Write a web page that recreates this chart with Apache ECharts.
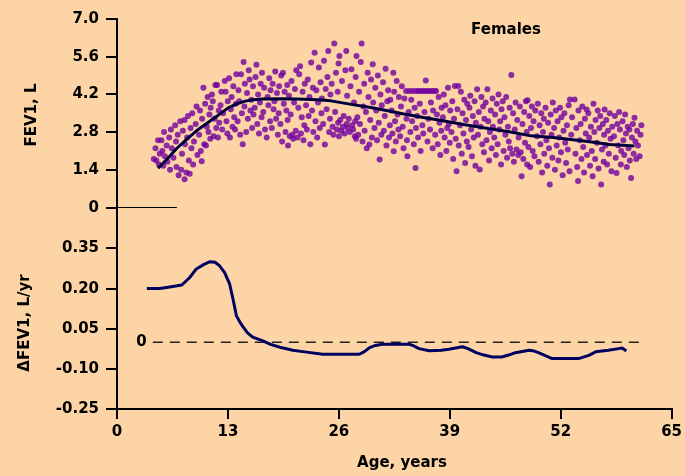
<!DOCTYPE html>
<html>
<head>
<meta charset="utf-8">
<script src="https://cdn.jsdelivr.net/npm/echarts@6/dist/echarts.min.js"></script>
<style>
html,body{margin:0;padding:0;background:#FDD4A6;}
#chart{width:685px;height:476px;}
</style>
</head>
<body>
<div id="chart"></div>
<script>
// ---------- DATA ----------
const xTicks = [0, 13, 26, 39, 52, 65];
const fevTicks = [0, 1.4, 2.8, 4.2, 5.6, 7.0];
const fevTickLabels = ['0', '1.4', '2.8', '4.2', '5.6', '7.0'];
const deltaTicks = [-0.25, -0.10, 0.05, 0.20, 0.35];
const deltaTickLabels = ['-0.25', '-0.10', '0.05', '0.20', '0.35'];

// Individual FEV1 observations [age, FEV1 (L)]
const fevPoints = [
[4.3,1.8],[4.5,2.2],[4.6,1.75],[4.8,2.5],[4.9,1.6],[5.0,2.0],
[5.2,2.5],[5.3,2.1],[5.4,1.55],[5.5,2.8],[5.6,1.9],[5.8,2.3],[5.9,1.7],
[6.1,2.6],[6.2,1.4],[6.3,2.9],[6.4,2.2],[6.6,1.85],[6.8,3.05],[6.9,2.45],[6.95,1.5],
[7.1,2.7],[7.2,1.2],[7.4,3.2],[7.5,1.4],[7.6,2.0],[7.7,2.85],[7.9,1.05],[7.9,3.25],[7.95,2.35],
[8.1,1.3],[8.2,2.6],[8.3,3.4],[8.4,1.75],[8.5,1.25],[8.6,2.95],[8.7,2.2],[8.8,3.5],[8.9,1.6],
[9.0,2.45],[9.2,3.1],[9.3,3.75],[9.4,1.95],[9.6,2.7],[9.7,3.6],[9.8,2.1],[9.9,1.72],[9.95,3.3],
[10.1,4.45],[10.2,2.35],[10.3,3.85],[10.4,2.3],[10.5,3.0],[10.6,4.1],[10.7,2.8],[10.8,3.45],[10.9,2.55],[10.95,3.7],
[11.1,4.2],[11.2,3.95],[11.3,2.65],[11.4,3.3],[11.5,4.55],[11.6,2.95],[11.7,4.55],[11.8,2.6],[11.9,3.6],[11.95,3.15],
[12.1,3.8],[12.2,4.3],[12.3,2.9],[12.4,3.5],[12.6,4.7],[12.7,4.3],[12.8,3.2],[12.9,2.75],[12.95,3.95],
[13.1,4.8],[13.2,2.6],[13.3,3.65],[13.4,4.1],[13.5,3.0],[13.6,4.5],[13.7,3.35],[13.8,2.9],[13.9,3.85],[13.95,4.95],
[14.1,3.2],[14.2,4.35],[14.3,3.95],[14.4,2.7],[14.5,4.95],[14.6,3.5],[14.7,2.35],[14.8,5.4],[14.9,3.75],[14.95,4.6],
[15.1,2.8],[15.2,4.25],[15.3,3.3],[15.4,5.1],[15.5,4.75],[15.6,3.6],[15.7,4.0],[15.8,2.95],[15.9,4.5],[15.95,3.45],
[16.1,3.7],[16.2,4.85],[16.3,5.3],[16.4,3.1],[16.5,4.2],[16.6,2.75],[16.7,3.9],[16.8,4.6],[16.9,3.35],[16.95,5.0],
[17.1,3.55],[17.2,4.45],[17.3,2.9],[17.5,2.6],[17.6,4.1],[17.7,3.8],[17.8,4.8],[17.9,3.2],[17.95,4.35],
[18.1,2.95],[18.2,4.6],[18.3,3.65],[18.4,3.95],[18.5,5.05],[18.6,3.3],[18.7,4.25],[18.8,2.7],[18.9,3.5],[18.95,4.5],
[19.1,3.1],[19.2,4.9],[19.3,2.45],[19.4,5.0],[19.5,3.85],[19.6,4.3],[19.7,2.8],[19.8,3.6],[19.9,4.55],[19.95,3.25],
[20.0,2.3],[20.1,4.15],[20.2,2.65],[20.3,3.45],[20.4,4.7],[20.5,2.7],[20.6,2.55],[20.7,3.9],[20.8,4.4],[20.9,2.85],[20.95,5.1],
[21.1,2.6],[21.2,3.7],[21.3,4.95],[21.4,5.25],[21.5,2.75],[21.6,3.35],[21.7,4.3],[21.8,2.5],[21.9,3.05],[21.95,4.6],
[22.1,3.8],[22.2,2.9],[22.3,4.75],[22.4,3.4],[22.5,4.1],[22.6,2.35],[22.7,5.38],[22.8,3.6],[22.9,4.45],[22.95,2.8],
[23.1,5.75],[23.2,3.2],[23.3,4.35],[23.4,2.6],[23.5,3.9],[23.6,5.2],[23.7,2.95],[23.8,4.65],[23.9,3.5],[23.95,4.05],
[24.1,3.1],[24.2,5.45],[24.3,2.34],[24.4,4.4],[24.5,3.65],[24.6,4.85],[24.7,5.81],[24.8,2.8],[24.9,3.3],[24.95,4.2],
[25.1,4.6],[25.2,3.0],[25.3,2.7],[25.4,6.09],[25.5,3.55],[25.6,5.0],[25.7,2.9],[25.8,4.3],[25.85,3.15],[25.9,5.35],[25.95,2.65],
[26.0,5.63],[26.1,3.25],[26.2,2.85],[26.3,4.7],[26.4,3.0],[26.5,3.4],[26.6,2.75],[26.7,5.1],[26.8,5.81],[26.85,3.1],[26.9,4.15],[26.95,2.95],
[27.1,3.3],[27.2,2.8],[27.3,4.5],[27.4,5.13],[27.5,3.05],[27.6,2.9],[27.7,3.9],[27.8,2.65],[27.85,3.2],[27.9,4.85],[27.95,2.55],
[28.0,5.63],[28.1,3.35],[28.2,2.7],[28.3,4.3],[28.4,3.1],[28.5,5.4],[28.6,6.09],[28.7,2.45],[28.8,3.75],[28.9,4.6],[28.95,2.85],
[29.1,3.55],[29.2,2.2],[29.3,5.0],[29.4,4.1],[29.5,2.34],[29.6,3.25],[29.7,4.75],[29.8,2.6],[29.9,5.32],[29.95,3.9],
[30.1,2.95],[30.2,4.45],[30.3,3.6],[30.4,2.5],[30.5,4.9],[30.6,3.15],[30.7,1.78],[30.8,4.2],[30.9,2.7],[30.95,3.8],
[31.1,4.65],[31.2,2.85],[31.3,3.4],[31.4,5.15],[31.5,2.3],[31.6,3.95],[31.7,4.35],[31.8,2.6],[31.9,3.05],[31.95,4.0],
[32.1,3.6],[32.2,2.75],[32.3,5.0],[32.35,2.09],[32.4,4.3],[32.5,3.2],[32.6,2.45],[32.7,4.7],[32.8,3.45],[32.9,2.9],[32.95,4.1],
[33.1,2.65],[33.2,3.75],[33.3,4.5],[33.4,3.0],[33.5,2.2],[33.6,4.05],[33.8,4.33],[33.85,3.3],[33.9,2.5],[33.95,1.9],
[34.1,3.55],[34.2,4.33],[34.3,2.8],[34.4,4.0],[34.5,3.2],[34.6,4.33],[34.7,2.35],[34.8,3.7],[34.9,1.47],[34.95,2.95],
[35.0,4.33],[35.1,3.4],[35.2,2.6],[35.3,4.33],[35.4,3.85],[35.5,2.1],[35.6,4.33],[35.7,3.05],[35.8,2.75],[35.9,4.33],[35.95,3.55],
[36.1,4.72],[36.2,4.33],[36.3,2.45],[36.4,3.3],[36.5,4.33],[36.6,2.9],[36.7,3.9],[36.8,4.33],[36.9,2.2],[36.95,3.6],
[37.1,4.33],[37.2,2.7],[37.3,4.33],[37.4,3.45],[37.5,2.35],[37.6,4.1],[37.7,3.15],[37.8,1.95],[37.9,2.85],[37.95,3.7],
[38.1,3.35],[38.2,4.2],[38.3,2.6],[38.4,3.8],[38.5,2.1],[38.6,2.95],[38.7,4.45],[38.8,3.1],[38.9,2.4],[38.95,3.6],
[39.1,2.8],[39.2,3.95],[39.3,1.8],[39.4,3.3],[39.5,4.51],[39.6,2.55],[39.7,1.35],[39.8,3.65],[39.9,4.51],[39.95,2.3],
[40.1,3.05],[40.2,4.3],[40.3,2.0],[40.4,3.5],[40.5,2.75],[40.6,4.0],[40.7,1.65],[40.8,3.25],[40.9,2.45],[40.95,3.85],
[41.1,2.25],[41.2,3.7],[41.3,4.15],[41.4,2.9],[41.5,1.9],[41.6,3.4],[41.7,2.6],[41.8,3.95],[41.9,1.55],[41.95,3.15],
[42.1,4.39],[42.2,2.7],[42.3,3.55],[42.4,1.41],[42.5,3.0],[42.6,4.1],[42.7,2.35],[42.8,3.75],[42.9,2.05],[42.95,3.3],
[43.1,3.9],[43.2,2.5],[43.3,4.39],[43.4,3.2],[43.5,1.75],[43.6,2.8],[43.7,3.6],[43.8,2.2],[43.9,4.05],[43.95,3.0],
[44.1,2.6],[44.2,3.45],[44.3,1.95],[44.4,3.85],[44.5,2.35],[44.6,4.2],[44.7,2.9],[44.8,3.2],[44.9,1.6],[44.95,3.65],
[45.1,3.95],[45.2,2.1],[45.3,3.35],[45.4,2.7],[45.5,4.1],[45.6,1.85],[45.7,3.0],[45.8,2.45],[45.9,3.7],[45.95,2.2],
[46.1,4.92],[46.2,2.0],[46.3,3.5],[46.4,1.7],[46.5,2.9],[46.6,3.9],[46.7,2.15],[46.8,3.25],[46.9,1.95],[46.95,2.6],
[47.1,3.75],[47.2,2.05],[47.3,1.16],[47.4,3.1],[47.5,1.8],[47.6,3.55],[47.7,2.4],[47.8,3.95],[47.9,2.8],[47.95,1.6],
[48.0,3.98],[48.1,2.25],[48.2,3.4],[48.3,1.5],[48.4,2.95],[48.5,3.75],[48.6,2.1],[48.7,3.2],[48.8,1.9],[48.9,3.6],
[49.1,2.65],[49.2,3.85],[49.3,1.7],[49.4,3.05],[49.5,2.35],[49.6,3.5],[49.7,1.3],[49.8,2.8],[49.9,3.3],[49.95,2.0],
[50.1,3.7],[50.2,2.5],[50.3,1.55],[50.4,3.15],[50.5,2.2],[50.6,0.85],[50.7,3.45],[50.8,2.7],[50.9,1.85],[50.95,3.9],
[51.1,2.95],[51.2,1.4],[51.3,3.6],[51.4,2.3],[51.5,3.2],[51.6,1.75],[51.7,2.6],[51.8,3.7],[51.9,2.05],[51.95,3.35],
[52.1,1.2],[52.2,2.85],[52.3,3.5],[52.4,2.4],[52.5,1.65],[52.6,3.05],[52.7,2.15],[52.8,3.8],[52.9,1.35],[52.95,4.01],
[53.1,2.7],[53.2,3.35],[53.5,4.01],[53.6,2.0],[53.7,2.95],[53.8,1.5],[53.9,0.98],[53.95,3.6],
[54.1,2.5],[54.2,3.1],[54.3,1.8],[54.4,3.75],[54.5,2.25],[54.6,1.3],[54.7,3.3],[54.8,2.75],[54.9,3.64],[54.95,1.95],
[55.1,3.5],[55.2,2.6],[55.3,1.55],[55.4,3.0],[55.5,2.1],[55.6,1.16],[55.7,3.85],[55.8,2.8],[55.9,1.8],[55.95,3.25],
[56.1,2.4],[56.2,3.6],[56.3,1.45],[56.4,2.95],[56.5,3.4],[56.6,0.85],[56.7,2.15],[56.8,3.1],[56.9,1.7],[56.95,2.7],
[57.0,3.64],[57.1,2.3],[57.2,3.25],[57.3,1.6],[57.4,2.85],[57.5,2.0],[57.6,3.5],[57.7,2.55],[57.8,1.35],[57.9,3.0],
[58.1,2.65],[58.2,3.4],[58.3,1.85],[58.4,1.28],[58.5,3.1],[58.6,2.3],[58.7,3.55],[58.8,2.9],[58.9,1.6],[58.95,2.1],
[59.1,3.2],[59.2,2.5],[59.3,1.95],[59.4,3.45],[59.5,2.75],[59.6,1.5],[59.7,3.0],[59.8,2.2],[59.9,2.9],[59.95,1.75],
[60.1,1.1],[60.2,2.6],[60.3,3.1],[60.4,2.0],[60.5,3.33],[60.6,2.45],[60.7,1.8],[60.8,2.85],[60.9,2.3],
[61.1,1.9],[61.2,2.7],[61.3,3.05]
];

// Smoothed FEV1 curve
const fitAges = [4.8, 6, 7, 8.3, 9.5, 10.6, 11.8, 13, 14, 15, 15.9, 17, 19, 21, 23.5, 25, 27.4, 29.5, 31.5, 33.4, 36, 38.1, 40.5, 43.4, 46, 48.4, 51, 53.3, 55.5, 57.6, 60.5];
const fitFev  = [1.46, 1.85, 2.2, 2.58, 2.9, 3.15, 3.42, 3.7, 3.85, 3.95, 4.0, 4.03, 4.04, 4.03, 4.0, 3.96, 3.83, 3.72, 3.6, 3.48, 3.33, 3.22, 3.08, 2.93, 2.8, 2.66, 2.6, 2.52, 2.43, 2.34, 2.28];

// Annual change in FEV1
const deltaAges = [3.5, 5.0, 6.0, 7.6, 8.5, 9.3, 10.2, 10.9, 11.5, 12.0, 12.6, 13.2, 13.6, 14.0, 14.4, 14.8, 15.3, 15.9, 17.1, 18.0, 19.1, 20.6, 22.0, 24.1, 26.0, 28.4, 29.0, 29.6, 30.3, 31.1, 34.3, 34.8, 35.4, 36.6, 38.0, 38.9, 40.0, 40.5, 41.2, 42.1, 43.0, 44.0, 45.1, 46.0, 46.7, 48.3, 48.9, 49.4, 50.2, 51.0, 54.1, 55.3, 56.1, 57.6, 58.8, 59.2, 59.7];
const deltaVals = [0.20, 0.20, 0.205, 0.213, 0.24, 0.273, 0.29, 0.30, 0.298, 0.285, 0.26, 0.217, 0.16, 0.098, 0.075, 0.056, 0.035, 0.019, 0.005, -0.008, -0.019, -0.03, -0.036, -0.045, -0.045, -0.045, -0.035, -0.02, -0.012, -0.008, -0.008, -0.014, -0.024, -0.032, -0.03, -0.026, -0.02, -0.017, -0.025, -0.039, -0.048, -0.055, -0.055, -0.047, -0.039, -0.03, -0.033, -0.039, -0.05, -0.061, -0.061, -0.049, -0.036, -0.03, -0.024, -0.022, -0.033];

// Reference lines
const topZeroAges = [0, 7];
const dashedZeroAges = [4.2, 61.2];

// ---------- CHART ----------
const FONT = '"DejaVu Sans", sans-serif';
const chart = echarts.init(document.getElementById('chart'), null, {renderer: 'canvas'});

function lbl(extra) {
  return Object.assign({color: '#000', fontFamily: FONT, fontWeight: 'bold', fontSize: 15}, extra);
}

const baseGraphic = [
  {type: 'text', x: 506, y: 30, style: {text: 'Females', font: 'bold 15px ' + FONT, fill: '#000', align: 'center', verticalAlign: 'middle'}},
  {type: 'text', x: 32, y: 115, rotation: Math.PI / 2, style: {text: 'FEV1, L', font: 'bold 15px ' + FONT, fill: '#000', align: 'center', verticalAlign: 'middle'}},
  {type: 'text', x: 25, y: 323, rotation: Math.PI / 2, style: {text: 'ΔFEV1, L/yr', font: 'bold 15px ' + FONT, fill: '#000', align: 'center', verticalAlign: 'middle'}},
  {type: 'text', x: 402, y: 463, style: {text: 'Age, years', font: 'bold 15px ' + FONT, fill: '#000', align: 'center', verticalAlign: 'middle'}}
];

const option = {
  backgroundColor: '#FDD4A6',
  animation: false,
  grid: [
    {left: 117, top: 19, width: 556, height: 188.5, show: false},
    {left: 117, top: 208, width: 556, height: 201.3, show: false}
  ],
  xAxis: [
    {gridIndex: 0, type: 'value', min: 0, max: 65, interval: 13, show: false},
    {gridIndex: 1, type: 'value', min: 0, max: 65, interval: 13, show: true, position: 'bottom',
     axisLine: {show: false, onZero: false}, axisTick: {show: false},
     axisLabel: lbl({show: true, margin: 15, formatter: v => xTicks.includes(v) ? String(v) : ''}),
     splitLine: {show: false}}
  ],
  yAxis: [
    {gridIndex: 0, type: 'value', min: 0, max: 7, interval: 1.4, show: false},
    {gridIndex: 1, type: 'value', min: -0.25, max: 0.5, interval: 0.15, show: false}
  ],
  graphic: baseGraphic,
  series: [
    {type: 'scatter', xAxisIndex: 0, yAxisIndex: 0, symbol: 'circle', symbolSize: 6,
     itemStyle: {color: '#7000A0'}, data: fevPoints, z: 2, silent: true},
    {type: 'line', xAxisIndex: 0, yAxisIndex: 0, showSymbol: false, symbol: 'none',
     lineStyle: {color: '#00003C', width: 3}, data: fitAges.map((a, i) => [a, fitFev[i]]), z: 3, silent: true},
    {type: 'line', xAxisIndex: 0, yAxisIndex: 0, symbol: 'none',
     lineStyle: {color: '#000', width: 1}, data: topZeroAges.map(a => [a, 0]), z: 3, silent: true},
    {type: 'line', xAxisIndex: 1, yAxisIndex: 1, symbol: 'none',
     lineStyle: {color: '#000060', width: 3}, data: deltaAges.map((a, i) => [a, deltaVals[i]]), z: 3, silent: true},
    {type: 'line', xAxisIndex: 1, yAxisIndex: 1, symbol: 'none', showSymbol: true,
     lineStyle: {color: '#222', width: 1.5, type: [10, 7]},
     data: dashedZeroAges.map((a, i) => i === 0 ? {value: [a, 0], symbol: 'circle', symbolSize: 0.1,
        label: {show: true, position: 'left', distance: 6, formatter: '0', color: '#000', fontFamily: FONT, fontWeight: 'bold', fontSize: 15}} : {value: [a, 0], symbol: 'none'}),
     z: 2, silent: true}
  ]
};
chart.setOption(option);

// Axis lines, ticks and y tick labels, positioned through the chart's own scales
const toPx = (g, x, y) => chart.convertToPixel({gridIndex: g}, [x, y]);
const axisEls = [];
const yTop = toPx(0, 0, 7.0);
const yBot = toPx(1, 0, -0.25);
const xEnd = toPx(1, 65, -0.25);
const ax = Math.round(yTop[0]);
const by = Math.round(yBot[1]);
const ty = Math.round(yTop[1]);
const ex = Math.round(xEnd[0]);
function bar(x, y, w, h) {
  return {type: 'rect', silent: true, z: 100,
          shape: {x: x, y: y, width: w, height: h}, style: {fill: '#000000'}};
}
function ylabel(text, y) {
  return {type: 'text', silent: true, z: 100, x: ax - 18, y: y,
          style: {text: text, font: 'bold 15px ' + FONT, fill: '#000', align: 'right', verticalAlign: 'middle'}};
}
axisEls.push(bar(ax - 1, ty - 1, 2, by - ty + 2));
axisEls.push(bar(ax - 1, by - 1, ex - ax + 2, 2));
fevTicks.forEach((v, i) => {
  const y = Math.round(toPx(0, 0, v)[1]);
  axisEls.push(bar(ax - 11, y - 1, 12, 2));
  axisEls.push(ylabel(fevTickLabels[i], y));
});
deltaTicks.forEach((v, i) => {
  const y = Math.round(toPx(1, 0, v)[1]);
  axisEls.push(bar(ax - 11, y - 1, 12, 2));
  axisEls.push(ylabel(deltaTickLabels[i], y));
});
xTicks.forEach(v => {
  const x = Math.round(toPx(1, v, -0.25)[0]);
  axisEls.push(bar(x - 1, by, 2, 10));
});
chart.setOption({graphic: baseGraphic.concat(axisEls)});
</script>
</body>
</html>
